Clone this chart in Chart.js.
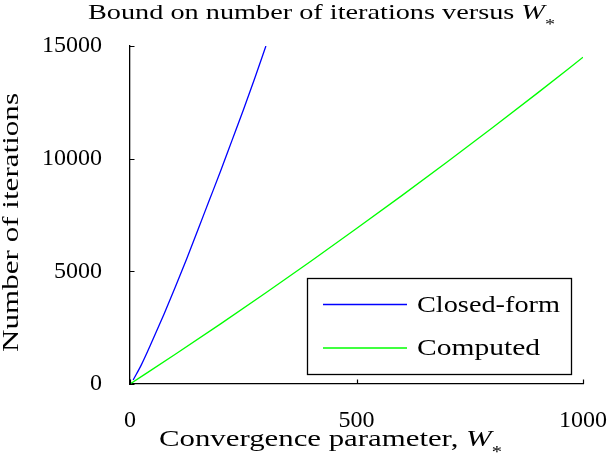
<!DOCTYPE html>
<html>
<head>
<meta charset="utf-8">
<script src="https://cdn.jsdelivr.net/npm/chart.js@4.4.1/dist/chart.umd.min.js"></script>
<style>
  html, body { margin: 0; padding: 0; background: #fff; }
  #wrap { width: 612px; height: 454px; }
</style>
</head>
<body>
<div id="wrap"><canvas id="iter-chart" width="612" height="454"></canvas></div>
<script>
// values
const closedW = [7, 25, 50, 75, 100, 125, 150, 175, 200, 225, 250, 275, 300];
const closedN = [180, 850, 1950, 3100, 4300, 5550, 6850, 8150, 9450, 10800, 12150, 13550, 15000];
const computedW = [0, 100, 200, 300, 400, 500, 600, 700, 800, 900, 1000];
const computedN = [0, 1320, 2670, 4050, 5460, 6900, 8360, 9850, 11370, 12920, 14500];
const xTicks = [0, 500, 1000];
const yTicks = [0, 5000, 10000, 15000];
const seriesNames = ['Closed-form', 'Computed'];

const SERIF = '"Liberation Serif", "DejaVu Serif", serif';

function toPoints(xs, ys) {
    return xs.map((x, i) => ({ x: x, y: ys[i] }));
}

// draws a run of text pieces, stretched horizontally to a given width
function drawRich(ctx, parts, x, y, width, angle) {
    ctx.save();
    let total = 0;
    parts.forEach(p => { ctx.font = p.font; total += ctx.measureText(p.t).width; });
    ctx.translate(x, y);
    if (angle) ctx.rotate(angle);
    ctx.scale(width / total, 1);
    ctx.fillStyle = '#000';
    ctx.textBaseline = 'alphabetic';
    ctx.textAlign = 'left';
    let cx = 0;
    parts.forEach(p => {
        ctx.font = p.font;
        ctx.fillText(p.t, cx, p.dy || 0);
        cx += ctx.measureText(p.t).width;
    });
    ctx.restore();
}

const decor = {
    id: 'decor',
    afterDraw(chart) {
        const ctx = chart.ctx;
        const xs = chart.scales.x, ys = chart.scales.y;
        const x0 = xs.getPixelForValue(0), y0 = ys.getPixelForValue(0);

        // inward ticks
        ctx.save();
        ctx.strokeStyle = '#000';
        ctx.lineWidth = 1.2;
        ctx.beginPath();
        xTicks.forEach(v => {
            const px = Math.round(xs.getPixelForValue(v)) + 0.5;
            ctx.moveTo(px, y0); ctx.lineTo(px, y0 - 4.5);
        });
        yTicks.forEach(v => {
            const py = Math.round(ys.getPixelForValue(v)) + 0.5;
            ctx.moveTo(x0, py); ctx.lineTo(x0 + 4.5, py);
        });
        ctx.stroke();
        ctx.restore();

        // title and axis labels
        drawRich(ctx, [
            { t: 'Bound on number of iterations versus ', font: '21px ' + SERIF },
            { t: 'W', font: 'italic 21px ' + SERIF },
            { t: '*', font: '15px ' + SERIF, dy: 10 }
        ], 88, 19, 467);
        drawRich(ctx, [
            { t: 'Convergence parameter, ', font: '24px ' + SERIF },
            { t: 'W', font: 'italic 24px ' + SERIF },
            { t: '*', font: '16px ' + SERIF, dy: 11 }
        ], 159, 446, 343);
        drawRich(ctx, [
            { t: 'Number of iterations', font: '24px ' + SERIF }
        ], 18, 352, 259, -Math.PI / 2);

        // legend box
        ctx.save();
        ctx.strokeStyle = '#000';
        ctx.lineWidth = 1.3;
        ctx.fillStyle = '#fff';
        ctx.fillRect(307.5, 278.5, 264, 96);
        ctx.strokeRect(307.5, 278.5, 264, 96);
        const rows = [304.5, 348];
        const widths = [143, 123];
        chart.data.datasets.forEach((ds, i) => {
            ctx.strokeStyle = ds.borderColor;
            ctx.lineWidth = 1.3;
            ctx.beginPath();
            ctx.moveTo(323, rows[i]); ctx.lineTo(407, rows[i]);
            ctx.stroke();
            drawRich(ctx, [{ t: ds.label, font: '24px ' + SERIF }], 417, rows[i] + 7, widths[i]);
        });
        ctx.restore();
    }
};

const tickFont = { family: SERIF, size: 24 };

new Chart(document.getElementById('iter-chart'), {
    type: 'line',
    data: {
        datasets: [
            { label: seriesNames[0], data: toPoints(closedW, closedN), borderColor: '#0000ff', borderWidth: 1.3,
              pointRadius: 0, cubicInterpolationMode: 'monotone', fill: false },
            { label: seriesNames[1], data: toPoints(computedW, computedN), borderColor: '#00ff00', borderWidth: 1.3,
              pointRadius: 0, cubicInterpolationMode: 'monotone', fill: false }
        ]
    },
    options: {
        responsive: false,
        animation: false,
        layout: { padding: { left: 0, top: 46, right: 29, bottom: 0 } },
        plugins: { legend: { display: false }, tooltip: { enabled: false }, title: { display: false } },
        scales: {
            x: {
                type: 'linear', min: 0, max: 1000,
                afterFit: s => { s.height = 70; s.paddingLeft = 0; s.paddingRight = 0; },
                afterBuildTicks: s => { s.ticks = xTicks.map(v => ({ value: v })); },
                ticks: { font: tickFont, color: '#000', padding: 14, maxRotation: 0, callback: v => String(v) },
                grid: { display: false },
                border: { display: true, color: '#000', width: 1.3 }
            },
            y: {
                type: 'linear', min: 0, max: 15000,
                afterFit: s => { s.width = 130; s.paddingTop = 0; s.paddingBottom = 0; },
                afterBuildTicks: s => { s.ticks = yTicks.map(v => ({ value: v })); },
                ticks: { font: tickFont, color: '#000', padding: 20, callback: v => String(v) },
                grid: { display: false },
                border: { display: true, color: '#000', width: 1.3 }
            }
        }
    },
    plugins: [decor]
});
</script>
</body>
</html>
